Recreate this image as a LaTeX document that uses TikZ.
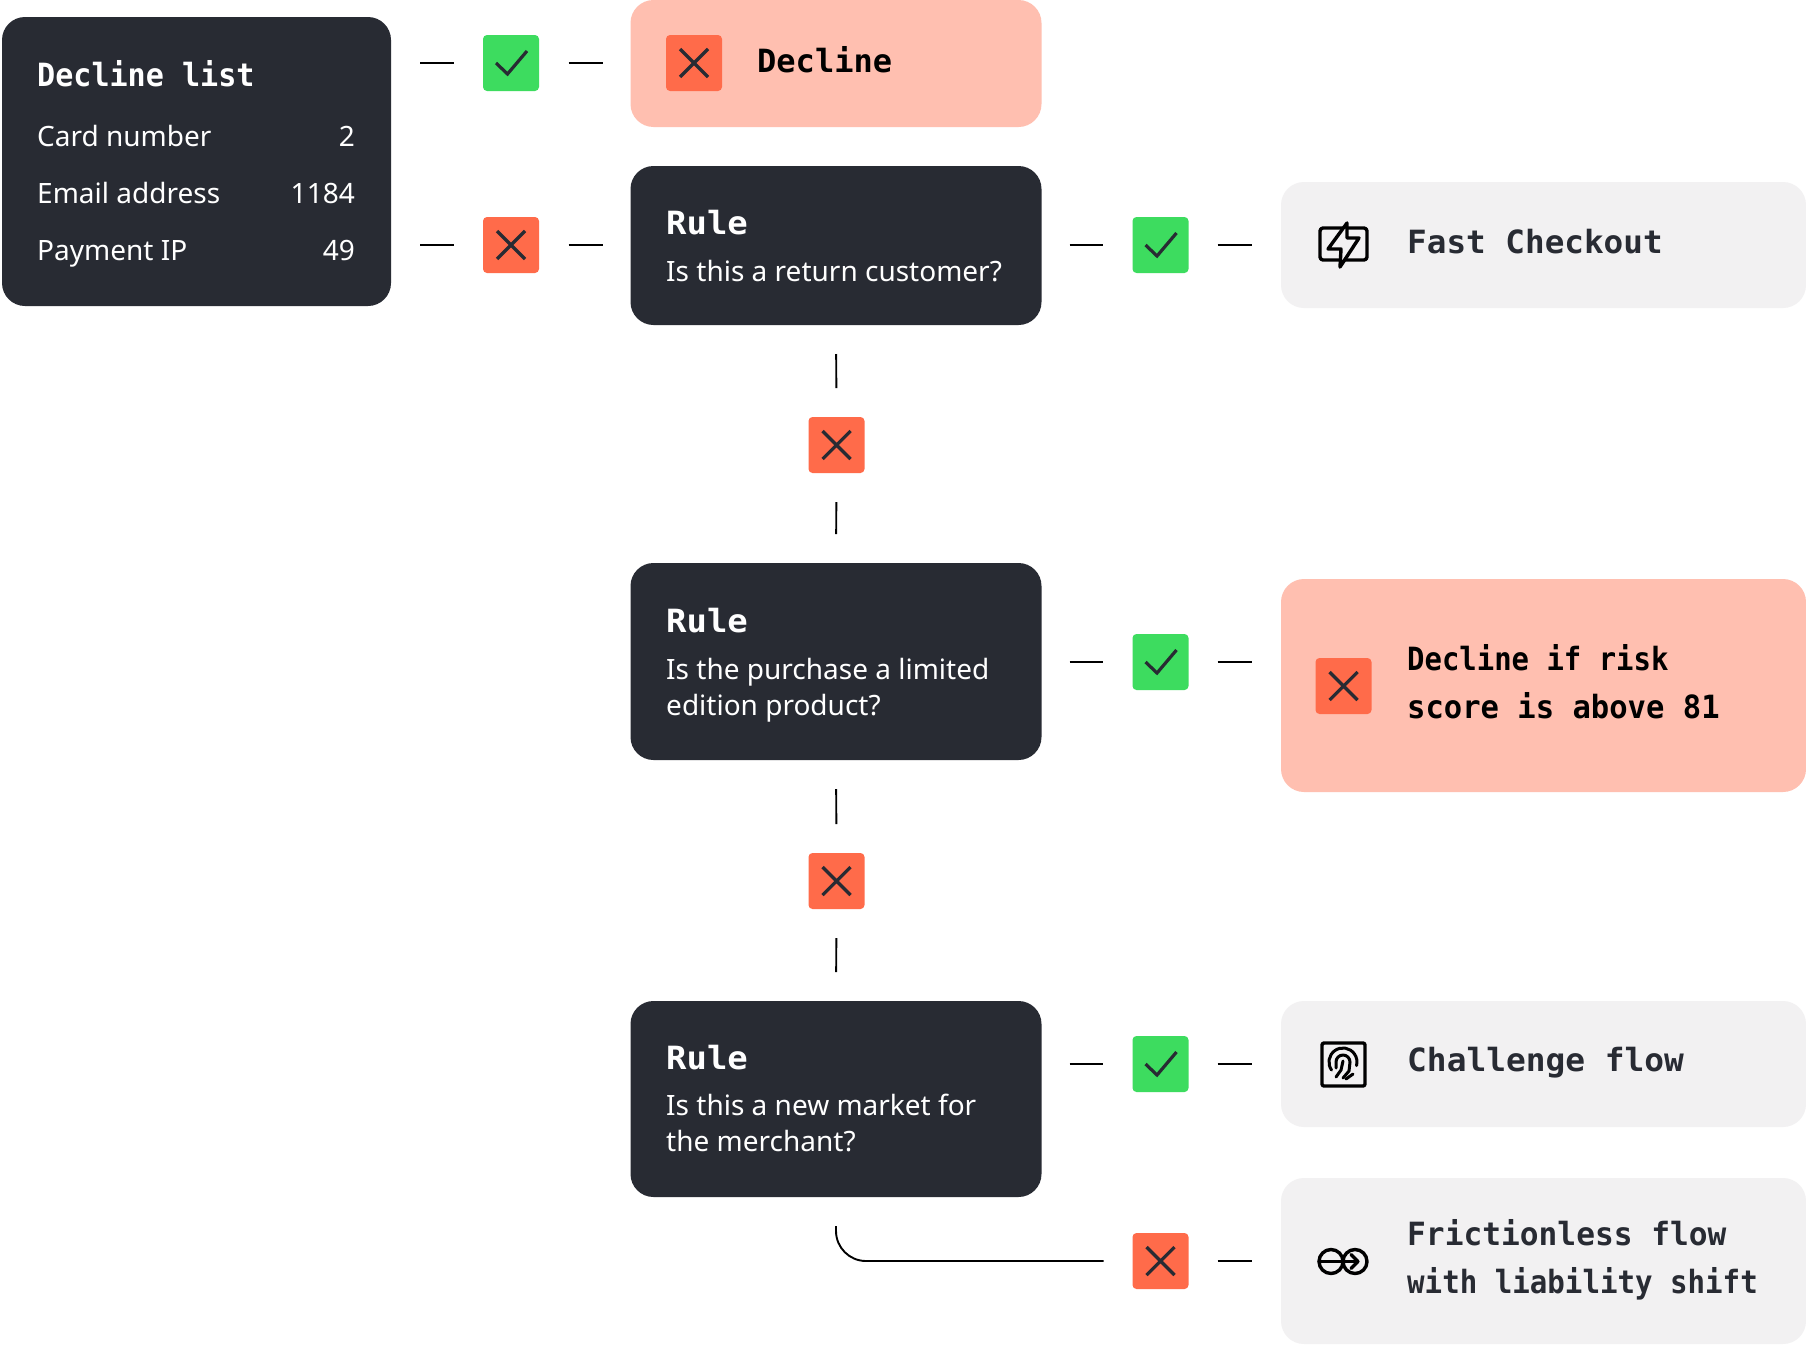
\documentclass[tikz,border=0pt]{standalone}
\usepackage{fontspec}
\setmainfont{Noto Sans}
\newfontfamily\monof{DejaVu Sans Mono}[BoldFont={DejaVu Sans Mono Bold}]
\definecolor{ink}{HTML}{282B33}
\definecolor{tint}{HTML}{FFBFB0}
\definecolor{fail}{HTML}{FF6B4A}
\definecolor{pass}{HTML}{3DDC5F}
\definecolor{pale}{HTML}{F2F1F2}
\tikzset{
 card/.style={rectangle,rounded corners=23pt,inner sep=0pt,outer sep=0pt,anchor=north west},
 darkcard/.style={card,fill=ink},
 tintcard/.style={card,fill=tint},
 palecard/.style={card,fill=pale},
 badge/.style={rectangle,rounded corners=4pt,minimum width=56pt,minimum height=56pt,inner sep=0pt,outer sep=0pt},
 okbadge/.style={badge,fill=pass},
 nobadge/.style={badge,fill=fail},
 link/.style={draw=black,line width=1.9pt,shorten <=29pt,shorten >=29pt},
 linkright/.style={link,shorten <=28pt,shorten >=30pt},
 tick/.style={draw=ink,line width=3.2pt},
 iconline/.style={draw=black,line width=3.4pt,line cap=round,line join=round},
 head/.style={anchor=base west,inner sep=0pt,text=white,font=\monof\bfseries\fontsize{32}{36}\selectfont},
 dhead/.style={head,text=black},
 ghead/.style={head,text=ink},
 squeeze/.style={xscale=#1,transform shape},
 body/.style={anchor=base west,inner sep=0pt,text=white,font=\fontsize{28}{36}\selectfont},
 val/.style={body,anchor=base east},
}
\newcommand{\okmark}[1]{\draw[tick] ([shift={(-15,0)}]#1.center) -- ([shift={(-3.5,11)}]#1.center) -- ([shift={(16,-12)}]#1.center);}
\newcommand{\nomark}[1]{\draw[tick] ([shift={(-14,-14)}]#1.center) -- ([shift={(14,14)}]#1.center) ([shift={(-14,14)}]#1.center) -- ([shift={(14,-14)}]#1.center);}
\begin{document}
\begin{tikzpicture}[x=1pt,y=-1pt]
\useasboundingbox (0,0) rectangle (1806,1344);
\fill[white] (0,0) rectangle (1806,1344);
% cards
\node[darkcard,minimum width=389pt,minimum height=289pt] (list) at (2,17) {};
\node[tintcard,minimum width=411pt,minimum height=127pt] (decline) at (630.5,0) {};
\node[darkcard,minimum width=411pt,minimum height=159pt] (ruleA) at (630.5,166) {};
\node[darkcard,minimum width=411pt,minimum height=197pt] (ruleB) at (630.5,563) {};
\node[darkcard,minimum width=411pt,minimum height=196pt] (ruleC) at (630.5,1001) {};
\node[palecard,minimum width=525pt,minimum height=126pt] (fast) at (1281,182) {};
\node[tintcard,minimum width=525pt,minimum height=213pt] (risk) at (1281,579) {};
\node[palecard,minimum width=525pt,minimum height=126pt] (challenge) at (1281,1001) {};
\node[palecard,minimum width=525pt,minimum height=166pt] (frictionless) at (1281,1178) {};
% badges
\node[okbadge] (b1) at (511,63) {};
\node[nobadge] (b2) at (511,245) {};
\node[nobadge] (iconA) at (694,63) {};
\node[okbadge] (b3) at (1160.5,245) {};
\node[nobadge] (b4) at (836.5,445) {};
\node[okbadge] (b5) at (1160.5,662) {};
\node[nobadge] (iconB) at (1343.5,686) {};
\node[nobadge] (b6) at (836.5,881) {};
\node[okbadge] (b7) at (1160.5,1064) {};
\node[nobadge] (b8) at (1160.5,1261) {};
\okmark{b1}\nomark{b2}\nomark{iconA}\okmark{b3}\nomark{b4}\okmark{b5}\nomark{iconB}\nomark{b6}\okmark{b7}\nomark{b8}
% connectors
\draw[link] (list.east |- b1) -- (b1.west);
\draw[link,shorten <=29.5pt,shorten >=28pt] (b1.east) -- (decline.west |- b1);
\draw[link] (list.east |- b2) -- (b2.west);
\draw[link,shorten <=29.5pt,shorten >=28pt] (b2.east) -- (ruleA.west |- b2);
\draw[linkright] (ruleA.east |- b3) -- (b3.west);
\draw[link] (b3.east) -- (fast.west |- b3);
\draw[link] (ruleA.south) -- (b4.north);
\draw[link] (b4.south) -- (ruleB.north);
\draw[linkright] (ruleB.east |- b5) -- (b5.west);
\draw[link] (b5.east) -- (risk.west |- b5);
\draw[link] (ruleB.south) -- (b6.north);
\draw[link] (b6.south) -- (ruleC.north);
\draw[linkright] (ruleC.east |- b7) -- (b7.west);
\draw[link] (b7.east) -- (challenge.west |- b7);
\draw[link,rounded corners=30pt] (ruleC.south) |- (b8.west);
\draw[link] (b8.east) -- (frictionless.west |- b8);
% text
\node[head,squeeze=0.94] (t1) at (37,86) {Decline list};
\node[body] (t2) at (37,146) {Card number};
\node[val] (t3) at (355,146) {2};
\node[body] (t4) at (37,203) {Email address};
\node[val] (t5) at (355,203) {1184};
\node[body] (t6) at (37,260) {Payment IP};
\node[val] (t7) at (355,260) {49};
\node[dhead] (t8) at (757,72) {Decline};
\node[head,squeeze=1.06] (t9) at (666,234) {Rule};
\node[body] (t10) at (666,281) {Is this a return customer?};
\node[head,squeeze=1.06] (t11) at (666,632) {Rule};
\node[body] (t12) at (666,679) {Is the purchase a limited};
\node[body] (t13) at (666,715) {edition product?};
\node[head,squeeze=1.06] (t14) at (666,1069) {Rule};
\node[body] (t15) at (666,1115) {Is this a new market for};
\node[body] (t16) at (666,1151) {the merchant?};
\node[ghead,squeeze=1.02] (t17) at (1407,253) {Fast Checkout};
\node[dhead,squeeze=0.904] (t18) at (1407,670) {Decline if risk};
\node[dhead,squeeze=0.954] (t19) at (1407,718) {score is above 81};
\node[ghead,squeeze=1.026] (t20) at (1407,1071) {Challenge flow};
\node[ghead,squeeze=0.975] (t21) at (1407,1245) {Frictionless flow};
\node[ghead,squeeze=0.91] (t22) at (1407,1293) {with liability shift};
% icon: card with bolt
\draw[iconline,rounded corners=3pt] (1320,228) rectangle (1367,260);
\draw[iconline,fill=pale] (1347,223) -- (1328,249) -- (1341,249) -- (1340,267) -- (1359,238) -- (1347,238) -- cycle;
% icon: fingerprint
\draw[iconline,rounded corners=2pt] (1322,1043) rectangle (1365,1086);
\draw[iconline,line width=3pt] (1331.5,1070) arc[start angle=215,end angle=-15,radius=14pt];
\draw[iconline,line width=3pt] (1336,1068) -- (1336,1062) arc[start angle=180,end angle=0,radius=7pt] -- (1349,1071) -- (1343,1078);
\draw[iconline,line width=3pt] (1343,1061) -- (1341,1070) -- (1336,1077);
\draw[iconline,line width=3pt] (1346,1079) -- (1353,1074);
% icon: linked circles
\draw[iconline] (1331,1261.5) circle[radius=12pt];
\draw[iconline] (1355,1261.5) circle[radius=12pt];
\draw[iconline] (1319,1261.5) -- (1358,1261.5);
\draw[iconline] (1351,1254.5) -- (1358,1261.5) -- (1351,1268.5);
\end{tikzpicture}
\end{document}
